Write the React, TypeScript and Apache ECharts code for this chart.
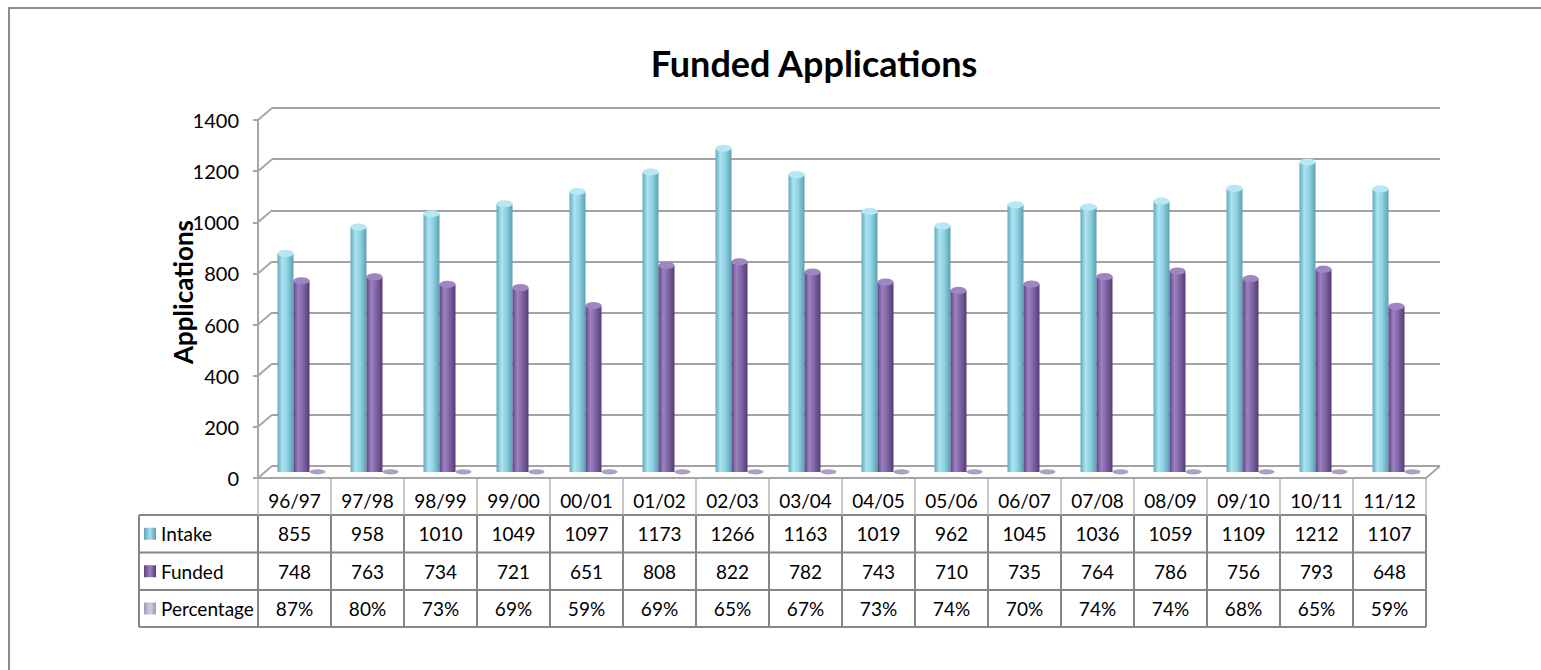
import React, { useEffect, useRef } from "react";
import * as echarts from "echarts";

const categories = ["96/97", "97/98", "98/99", "99/00", "00/01", "01/02", "02/03", "03/04", "04/05", "05/06", "06/07", "07/08", "08/09", "09/10", "10/11", "11/12"];
const intake = [855, 958, 1010, 1049, 1097, 1173, 1266, 1163, 1019, 962, 1045, 1036, 1059, 1109, 1212, 1107];
const funded = [748, 763, 734, 721, 651, 808, 822, 782, 743, 710, 735, 764, 786, 756, 793, 648];
const percentage = [87, 80, 73, 69, 59, 69, 65, 67, 73, 74, 70, 74, 74, 68, 65, 59];
const yMax = 1400;
const yStep = 200;

// layout
const FL = 258, FR = 1426, FT = 120, FB = 478;
const DX = 14, DY = -12;
const BX = 7, BY = -6;
const FONT = "Lato, 'Noto Sans', sans-serif";
const ROW_Y = [515, 552.5, 590, 627];
const TABLE_LEFT = 139;

const lin = (stops: [number, string][]) => ({
  type: "linear", x: 0, y: 0, x2: 1, y2: 0,
  colorStops: stops.map(([offset, color]) => ({ offset, color })),
});

const intakeFill = lin([[0, "#62A9BB"], [0.3, "#ACE3F0"], [0.6, "#90D3E3"], [1, "#5C9FB0"]]);
const fundedFill = lin([[0, "#5E4483"], [0.3, "#9C82C2"], [0.6, "#8166A6"], [1, "#553C76"]]);
const pctFill = lin([[0, "#9E91B3"], [0.4, "#CFC5DD"], [1, "#9E91B3"]]);
const ELLIPSE = "path://M0 50 A50 50 0 1 1 100 50 A50 50 0 1 1 0 50 Z";

function buildOption() {
  const colW = (FR - FL) / categories.length;
  const graphic: any[] = [];
  // outer border
  graphic.push({ type: "rect", silent: true, shape: { x: 9, y: 8, width: 1600, height: 700 }, style: { fill: "none", stroke: "#8c8c8c", lineWidth: 2 } });
  // diagonal connectors (3D side wall)
  const nTicks = yMax / yStep;
  for (let k = 0; k <= nTicks; k++) {
    const y = FB - (k * (FB - FT)) / nTicks;
    graphic.push({ type: "line", silent: true, shape: { x1: FL, y1: y, x2: FL + DX, y2: y + DY }, style: { stroke: "#a6a6a6", lineWidth: 2 } });
  }
  graphic.push({ type: "line", silent: true, shape: { x1: FR, y1: FB, x2: FR + DX, y2: FB + DY }, style: { stroke: "#a6a6a6", lineWidth: 2 } });

  // y axis title
  graphic.push({
    type: "text", silent: true, x: 183, y: 292, rotation: Math.PI / 2,
    style: { text: "Applications", fill: "#000", fontSize: 26, fontWeight: "bold", fontFamily: FONT, align: "center", verticalAlign: "middle" },
  });

  // table lines
  ROW_Y.forEach((y) => {
    graphic.push({ type: "line", silent: true, shape: { x1: TABLE_LEFT, y1: y, x2: FR, y2: y }, style: { stroke: "#868686", lineWidth: 2 } });
  });
  graphic.push({ type: "line", silent: true, shape: { x1: TABLE_LEFT, y1: ROW_Y[0], x2: TABLE_LEFT, y2: ROW_Y[3] }, style: { stroke: "#868686", lineWidth: 2 } });
  for (let i = 0; i <= categories.length; i++) {
    const x = FL + i * colW;
    graphic.push({ type: "line", silent: true, shape: { x1: x, y1: FB, x2: x, y2: ROW_Y[0] }, style: { stroke: "#b4b4b4", lineWidth: 1.5 } });
    graphic.push({ type: "line", silent: true, shape: { x1: x, y1: ROW_Y[0], x2: x, y2: ROW_Y[3] }, style: { stroke: "#868686", lineWidth: 2 } });
  }

  const rows = [
    { name: "Intake", values: intake.map(String), key: lin([[0, "#5FA6B8"], [0.5, "#A9E2EF"], [1, "#5A9CAD"]]) },
    { name: "Funded", values: funded.map(String), key: lin([[0, "#5E4483"], [0.5, "#9C82C2"], [1, "#553C76"]]) },
    { name: "Percentage", values: percentage.map((p) => p + "%"), key: lin([[0, "#A498B8"], [0.5, "#D4CBE1"], [1, "#A498B8"]]) },
  ];
  rows.forEach((r, ri) => {
    const cy = (ROW_Y[ri] + ROW_Y[ri + 1]) / 2;
    graphic.push({ type: "rect", silent: true, shape: { x: 144, y: cy - 6, width: 12, height: 12 }, style: { fill: r.key } });
    graphic.push({ type: "text", silent: true, x: 161, y: cy, style: { text: r.name, fill: "#000", fontSize: 19, fontFamily: FONT, align: "left", verticalAlign: "middle" } });
    r.values.forEach((v, i) => {
      graphic.push({ type: "text", silent: true, x: FL + (i + 0.5) * colW, y: cy, style: { text: v, fill: "#000", fontSize: 19, fontFamily: FONT, align: "center", verticalAlign: "middle" } });
    });
  });

  const hiddenCat = (gridIndex: number) => ({ type: "category", gridIndex, data: categories, show: false });
  const capSeries = (name: string, data: number[], color: string, size: number[], z: number) => ({
    type: "pictorialBar", name: name + " cap", xAxisIndex: 2, yAxisIndex: 2, data,
    symbol: ELLIPSE, symbolSize: size, symbolPosition: "end", symbolOffset: [0, "-50%"],
    barWidth: 16, barGap: "0%", itemStyle: { color }, z, silent: true,
  });

  return {
    animation: false,
    backgroundColor: "#ffffff",
    title: {
      text: "Funded Applications", left: 809, top: 40, textAlign: "center",
      textStyle: { fontSize: 36, fontWeight: "bold", fontFamily: FONT, color: "#000" },
    },
    grid: [
      { left: FL, top: FT, width: FR - FL, height: FB - FT, outerBoundsMode: "none", containLabel: false },
      { left: FL + DX, top: FT + DY, width: FR - FL, height: FB - FT, outerBoundsMode: "none", containLabel: false },
      { left: FL + BX, top: FT + BY, width: FR - FL, height: FB - FT, outerBoundsMode: "none", containLabel: false },
    ],
    xAxis: [
      {
        type: "category", gridIndex: 0, data: categories,
        axisLine: { lineStyle: { color: "#a6a6a6", width: 2 } },
        axisTick: { show: false },
        axisLabel: { color: "#000", fontSize: 19, fontFamily: FONT, margin: 13 },
      },
      hiddenCat(1),
      hiddenCat(2),
    ],
    yAxis: [
      {
        type: "value", gridIndex: 0, min: 0, max: yMax, interval: yStep,
        axisLine: { show: true, lineStyle: { color: "#a6a6a6", width: 2 } },
        axisTick: { show: true, length: 5, lineStyle: { color: "#a6a6a6", width: 2 } },
        axisLabel: { color: "#000", fontSize: 20, fontFamily: FONT, margin: 19, formatter: (v: number) => String(v) },
        splitLine: { show: false },
      },
      {
        type: "value", gridIndex: 1, min: 0, max: yMax, interval: yStep,
        axisLine: { show: false }, axisTick: { show: false }, axisLabel: { show: false },
        splitLine: { show: true, lineStyle: { color: "#a3a3a3", width: 2 } },
      },
      { type: "value", gridIndex: 2, min: 0, max: yMax, interval: yStep, show: false },
    ],
    series: [
      { type: "bar", name: "Intake", xAxisIndex: 2, yAxisIndex: 2, data: intake, barWidth: 16, barGap: "0%", itemStyle: { color: intakeFill }, z: 3 },
      { type: "bar", name: "Funded", xAxisIndex: 2, yAxisIndex: 2, data: funded, barWidth: 16, barGap: "0%", itemStyle: { color: fundedFill }, z: 3 },
      { type: "bar", name: "Percentage", xAxisIndex: 2, yAxisIndex: 2, data: percentage.map((p) => p / 100), barWidth: 16, barGap: "0%", itemStyle: { color: pctFill }, z: 3 },
      capSeries("Intake", intake, "#B6E7F3", [16, 7], 4),
      capSeries("Funded", funded, "#9F86C3", [16, 7], 4),
      capSeries("Percentage", percentage.map((p) => p / 100), "#ADA1C2", [16, 5], 4),
    ],
    graphic,
  };
}

export default function App() {
  const ref = useRef<HTMLDivElement>(null);
  useEffect(() => {
    const chart = echarts.init(ref.current!, null, { renderer: "svg" });
    chart.setOption(buildOption() as any);
    return () => chart.dispose();
  }, []);
  return <div ref={ref} style={{ position: "absolute", left: 0, top: 0, width: 1541, height: 670 }} />;
}
